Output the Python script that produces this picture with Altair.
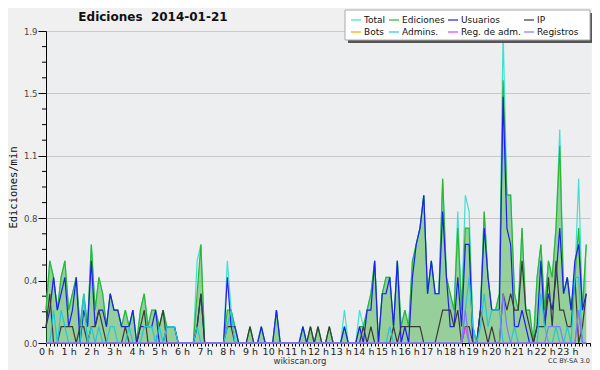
import altair as alt
import pandas as pd

series_names = ["Total", "Ediciones", "Usuarios", "IP", "Bots", "Admins.", "Reg. de adm.", "Registros"]
series_colors = ["#40E0D0", "#2EB52E", "#1E1EF0", "#3A3A3A", "#FFA500", "#26C6DA", "#E040FB", "#7B7BFF"]

# one value every 10 minutes (6 per hour), rows = hours 0..23
total_rows = [
    [0.2, 0.5, 0.4, 0.2, 0.4, 0.5], [0.2, 0.3, 0.4, 0.1, 0.3, 0.1], [0.6, 0.2, 0.4, 0.3, 0.1, 0.3],
    [0.2, 0.2, 0.1, 0.2, 0.1, 0.2], [0.0, 0.2, 0.3, 0.1, 0.2, 0.2], [0.1, 0.2, 0.1, 0.1, 0.1, 0.0],
    [0.0, 0.0, 0.0, 0.0, 0.5, 0.6], [0.0, 0.0, 0.0, 0.0, 0.0, 0.0], [0.5, 0.2, 0.1, 0.0, 0.0, 0.0],
    [0.1, 0.0, 0.0, 0.1, 0.0, 0.0], [0.0, 0.2, 0.0, 0.0, 0.0, 0.0], [0.0, 0.0, 0.1, 0.0, 0.1, 0.0],
    [0.1, 0.0, 0.0, 0.1, 0.0, 0.0], [0.0, 0.2, 0.0, 0.0, 0.0, 0.2], [0.1, 0.2, 0.3, 0.5, 0.0, 0.3],
    [0.4, 0.4, 0.1, 0.5, 0.1, 0.2], [0.1, 0.5, 0.6, 0.7, 0.9, 0.3], [0.5, 0.3, 0.3, 1.0, 0.4, 0.3],
    [0.2, 0.8, 0.2, 0.9, 0.8, 0.1], [0.0, 0.2, 0.8, 0.4, 0.2, 0.2], [0.3, 1.9, 0.9, 0.9, 0.3, 0.2],
    [0.7, 0.2, 0.2, 0.0, 0.4, 0.6], [0.2, 0.5, 0.4, 0.7, 1.3, 0.3], [0.4, 0.2, 0.4, 1.0, 0.2, 0.6],
]
ediciones_rows = [
    [0.2, 0.5, 0.4, 0.2, 0.4, 0.5], [0.2, 0.3, 0.4, 0.1, 0.3, 0.1], [0.6, 0.2, 0.4, 0.3, 0.1, 0.3],
    [0.2, 0.2, 0.1, 0.2, 0.1, 0.2], [0.0, 0.2, 0.3, 0.1, 0.2, 0.2], [0.1, 0.2, 0.1, 0.1, 0.1, 0.0],
    [0.0, 0.0, 0.0, 0.0, 0.3, 0.6], [0.0, 0.0, 0.0, 0.0, 0.0, 0.0], [0.2, 0.2, 0.1, 0.0, 0.0, 0.0],
    [0.1, 0.0, 0.0, 0.1, 0.0, 0.0], [0.0, 0.2, 0.0, 0.0, 0.0, 0.0], [0.0, 0.0, 0.1, 0.0, 0.1, 0.0],
    [0.1, 0.0, 0.0, 0.1, 0.0, 0.0], [0.0, 0.1, 0.0, 0.0, 0.0, 0.1], [0.1, 0.2, 0.3, 0.5, 0.0, 0.3],
    [0.4, 0.4, 0.1, 0.5, 0.1, 0.2], [0.1, 0.5, 0.6, 0.7, 0.9, 0.3], [0.5, 0.3, 0.3, 1.0, 0.4, 0.3],
    [0.2, 0.7, 0.2, 0.7, 0.7, 0.1], [0.0, 0.2, 0.8, 0.4, 0.2, 0.2], [0.3, 1.6, 0.9, 0.9, 0.3, 0.2],
    [0.7, 0.2, 0.2, 0.0, 0.4, 0.6], [0.2, 0.5, 0.4, 0.7, 1.2, 0.3], [0.4, 0.2, 0.4, 0.7, 0.2, 0.6],
]
usuarios_rows = [
    [0.1, 0.2, 0.4, 0.2, 0.3, 0.4], [0.1, 0.2, 0.4, 0.0, 0.2, 0.1], [0.5, 0.1, 0.2, 0.2, 0.1, 0.3],
    [0.2, 0.2, 0.1, 0.1, 0.1, 0.2], [0.0, 0.1, 0.1, 0.1, 0.1, 0.2], [0.0, 0.0, 0.1, 0.1, 0.1, 0.0],
    [0.0, 0.0, 0.0, 0.0, 0.1, 0.3], [0.0, 0.0, 0.0, 0.0, 0.0, 0.0], [0.4, 0.1, 0.1, 0.0, 0.0, 0.0],
    [0.0, 0.0, 0.0, 0.1, 0.0, 0.0], [0.0, 0.2, 0.0, 0.0, 0.0, 0.0], [0.0, 0.0, 0.1, 0.0, 0.0, 0.0],
    [0.0, 0.0, 0.0, 0.0, 0.0, 0.0], [0.0, 0.1, 0.0, 0.0, 0.0, 0.1], [0.0, 0.2, 0.2, 0.5, 0.0, 0.3],
    [0.3, 0.4, 0.1, 0.5, 0.0, 0.1], [0.0, 0.4, 0.6, 0.7, 0.9, 0.3], [0.5, 0.3, 0.3, 0.8, 0.4, 0.1],
    [0.1, 0.4, 0.1, 0.6, 0.6, 0.0], [0.0, 0.2, 0.7, 0.4, 0.2, 0.2], [0.2, 1.5, 0.7, 0.6, 0.1, 0.1],
    [0.2, 0.1, 0.0, 0.0, 0.1, 0.5], [0.1, 0.3, 0.2, 0.4, 0.7, 0.3], [0.4, 0.2, 0.5, 0.6, 0.2, 0.3],
]
ip_rows = [
    [0.1, 0.3, 0.0, 0.0, 0.1, 0.1], [0.1, 0.1, 0.0, 0.1, 0.1, 0.0], [0.1, 0.1, 0.2, 0.1, 0.0, 0.0],
    [0.0, 0.0, 0.0, 0.1, 0.0, 0.0], [0.0, 0.1, 0.2, 0.0, 0.0, 0.0], [0.1, 0.2, 0.0, 0.0, 0.0, 0.0],
    [0.0, 0.0, 0.0, 0.0, 0.1, 0.3], [0.0, 0.0, 0.0, 0.0, 0.0, 0.0], [0.1, 0.1, 0.0, 0.0, 0.0, 0.0],
    [0.1, 0.0, 0.0, 0.0, 0.0, 0.0], [0.0, 0.0, 0.0, 0.0, 0.0, 0.0], [0.0, 0.0, 0.0, 0.0, 0.1, 0.0],
    [0.1, 0.0, 0.0, 0.1, 0.0, 0.0], [0.0, 0.0, 0.0, 0.0, 0.0, 0.0], [0.1, 0.0, 0.1, 0.0, 0.0, 0.0],
    [0.0, 0.0, 0.1, 0.0, 0.1, 0.1], [0.1, 0.1, 0.1, 0.1, 0.0, 0.0], [0.0, 0.0, 0.1, 0.2, 0.2, 0.2],
    [0.1, 0.2, 0.0, 0.1, 0.1, 0.0], [0.0, 0.2, 0.1, 0.0, 0.1, 0.0], [0.0, 0.3, 0.2, 0.3, 0.2, 0.2],
    [0.5, 0.2, 0.1, 0.0, 0.1, 0.1], [0.1, 0.4, 0.1, 0.5, 0.2, 0.2], [0.1, 0.1, 0.4, 0.0, 0.1, 0.3],
]
admins_rows = [
    [0.0, 0.0, 0.2, 0.0, 0.2, 0.1], [0.0, 0.0, 0.0, 0.0, 0.3, 0.0], [0.1, 0.0, 0.1, 0.0, 0.0, 0.1],
    [0.1, 0.0, 0.0, 0.0, 0.1, 0.0], [0.0, 0.0, 0.1, 0.1, 0.1, 0.0], [0.1, 0.0, 0.1, 0.1, 0.1, 0.0],
    [0.0, 0.0, 0.0, 0.0, 0.1, 0.0], [0.0, 0.0, 0.0, 0.0, 0.0, 0.0], [0.1, 0.2, 0.0, 0.0, 0.0, 0.0],
    [0.0, 0.0, 0.0, 0.0, 0.0, 0.0], [0.0, 0.0, 0.0, 0.0, 0.0, 0.0], [0.0, 0.0, 0.0, 0.0, 0.0, 0.0],
    [0.0, 0.0, 0.0, 0.0, 0.0, 0.0], [0.0, 0.0, 0.0, 0.0, 0.0, 0.0], [0.0, 0.0, 0.0, 0.0, 0.0, 0.0],
    [0.0, 0.1, 0.0, 0.0, 0.0, 0.0], [0.0, 0.0, 0.0, 0.0, 0.0, 0.0], [0.0, 0.0, 0.0, 0.0, 0.0, 0.0],
    [0.0, 0.0, 0.0, 0.2, 0.4, 0.1], [0.0, 0.1, 0.3, 0.1, 0.2, 0.2], [0.2, 0.0, 0.0, 0.0, 0.1, 0.0],
    [0.0, 0.0, 0.0, 0.0, 0.0, 0.3], [0.1, 0.0, 0.0, 0.1, 0.0, 0.0], [0.1, 0.0, 0.4, 0.4, 0.0, 0.0],
]
regadm_rows = [[0.0] * 6 for _ in range(18)] + [
    [0.0, 0.0, 0.0, 0.1, 0.0, 0.0], [0.0, 0.0, 0.0, 0.0, 0.0, 0.0], [0.0, 0.0, 0.0, 0.0, 0.0, 0.0],
    [0.0, 0.0, 0.0, 0.0, 0.0, 0.0], [0.0, 0.0, 0.0, 0.0, 0.0, 0.0], [0.0, 0.0, 0.0, 0.2, 0.0, 0.0],
]
registros_rows = [[0.0] * 6 for _ in range(18)] + [
    [0.0, 0.0, 0.0, 0.2, 0.0, 0.0], [0.0, 0.0, 0.0, 0.0, 0.0, 0.0], [0.0, 0.3, 0.1, 0.0, 0.0, 0.0],
    [0.0, 0.0, 0.0, 0.0, 0.0, 0.0], [0.0, 0.1, 0.1, 0.1, 0.1, 0.0], [0.0, 0.0, 0.0, 0.2, 0.0, 0.0],
]

y_ticks = [0.0, 0.38, 0.76, 1.14, 1.52, 1.9]
y_minor = [0.095, 0.19, 0.285, 0.475, 0.57, 0.665, 0.855, 0.95, 1.045,
           1.235, 1.33, 1.425, 1.615, 1.71, 1.805]
x_ticks = list(range(0, 1441, 10))

title_text = ["Ediciones\u00a0\u00a02014-01-21"]
site_text = ["wikiscan.org"]
license_text = ["CC BY-SA 3.0"]


def flat(rows):
    return [v for r in rows for v in r]


minutes = [i * 10 for i in range(144)]
series_data = {
    "Total": flat(total_rows),
    "Ediciones": flat(ediciones_rows),
    "Usuarios": flat(usuarios_rows),
    "IP": flat(ip_rows),
    "Admins.": flat(admins_rows),
    "Reg. de adm.": flat(regadm_rows),
    "Registros": flat(registros_rows),
}

x_enc = alt.X(
    "m:Q",
    scale=alt.Scale(domain=[0, 1440], nice=False, zero=False),
    axis=alt.Axis(
        values=x_ticks,
        labelExpr="datum.value % 60 == 0 && datum.value < 1440 ? floor(datum.value / 60) + ' h' : ''",
        tickSize=3, grid=False, title=None, domainColor="black", tickColor="black",
        labelFont="DejaVu Sans", labelFontSize=9.5, labelColor="#222", labelPadding=0,
        labelOverlap=False, labelBound=False, labelFlush=False,
    ),
)
y_enc = alt.Y(
    "value:Q",
    scale=alt.Scale(domain=[0, 1.9], nice=False),
    axis=alt.Axis(
        values=y_ticks, format=".1f", tickSize=8, grid=True, gridColor="#c8c8c8",
        domainColor="black", tickColor="black",
        labelFont="DejaVu Sans", labelFontSize=8.5, labelColor="#444", labelPadding=1,
        title="Ediciones/min", titleFont="DejaVu Sans Mono", titleFontSize=10.5,
        titleFontWeight="normal", titleColor="#111", titleAngle=270,
        titleX=-33, titleY=156, titleAlign="center", titleBaseline="middle",
    ),
)

color_scale = alt.Scale(domain=series_names, range=series_colors)
legend = alt.Legend(
    orient="none", legendX=300, legendY=-21, columns=4, direction="horizontal",
    title=None, symbolType="stroke", symbolSize=100, symbolStrokeWidth=1.2,
    labelFont="DejaVu Sans", labelFontSize=9, labelColor="#111",
    padding=4, rowPadding=1, columnPadding=0, labelOffset=2, labelLimit=120,
)

shadow = alt.Chart(pd.DataFrame({"a": [0]})).mark_rect(color="#555555").encode(
    x=alt.value(302), x2=alt.value(547), y=alt.value(-18), y2=alt.value(12)
)
box = alt.Chart(pd.DataFrame({"a": [0]})).mark_rect(
    color="white", stroke="#aaaaaa", strokeWidth=1
).encode(
    x=alt.value(299), x2=alt.value(544), y=alt.value(-21), y2=alt.value(9)
)

minor = alt.Chart(pd.DataFrame({"value": y_minor})).mark_rule(color="black", strokeWidth=1).encode(
    x=alt.value(-4), x2=alt.value(0), y=alt.Y("value:Q", scale=alt.Scale(domain=[0, 1.9], nice=False))
)

layers = []
area_df = pd.DataFrame({"m": minutes, "value": series_data["Ediciones"]})
area = alt.Chart(area_df).mark_area(color="#2EA82E", opacity=0.45).encode(x=x_enc, y=y_enc)
layers.append(area)

for name in ["Total", "Ediciones", "Usuarios", "IP", "Admins.", "Reg. de adm.", "Registros"]:
    df = pd.DataFrame({"m": minutes, "value": series_data[name], "series": name})
    layers.append(
        alt.Chart(df).mark_line(strokeWidth=1.2).encode(
            x=x_enc, y=y_enc,
            color=alt.Color("series:N", scale=color_scale, legend=legend),
        )
    )

title = alt.Chart(pd.DataFrame({"t": title_text})).mark_text(
    font="DejaVu Sans", fontSize=12, fontWeight="bold", color="#111", align="center", baseline="middle"
).encode(text="t:N", x=alt.value(107), y=alt.value(-14))

site = alt.Chart(pd.DataFrame({"t": site_text})).mark_text(
    font="DejaVu Sans", fontSize=8.5, color="#333", align="center", baseline="middle"
).encode(text="t:N", x=alt.value(254), y=alt.value(330))

lic = alt.Chart(pd.DataFrame({"t": license_text})).mark_text(
    font="DejaVu Sans", fontSize=6.5, color="#333", align="right", baseline="middle"
).encode(text="t:N", x=alt.value(544), y=alt.value(330))

chart = alt.layer(*layers, minor, title, site, lic, shadow, box).properties(
    width=544, height=312,
    padding={"left": 38, "top": 23, "right": 2, "bottom": 27},
    autosize=alt.AutoSizeParams(type="none"),
    background="#f0f0f0",
).configure_view(fill="#eceef0", stroke="transparent")

chart.save("out.html", embed_options={"renderer": "svg", "actions": False})
